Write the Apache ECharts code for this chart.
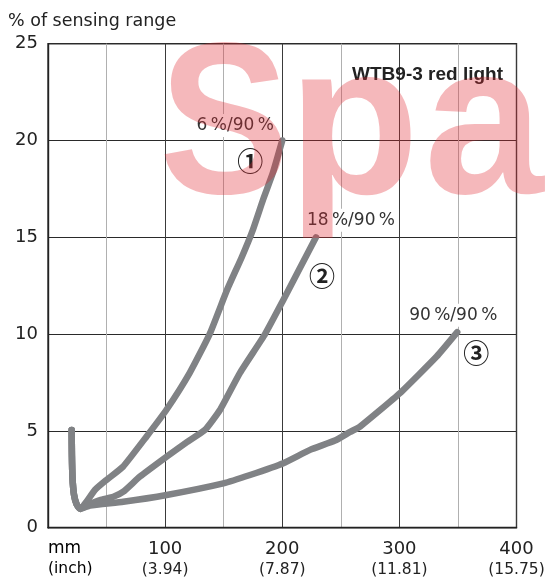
<!DOCTYPE html>
<html>
<head>
<meta charset="utf-8">
<script src="https://cdn.jsdelivr.net/npm/echarts@6/dist/echarts.min.js"></script>
<style>
html,body{margin:0;padding:0;background:#fff;}
#c{width:549px;height:582px;}
</style>
</head>
<body>
<div id="c"></div>
<script>
// ---- data ----
var yTitle = '% of sensing range';
var deviceTitle = 'WTB9-3 red light';
var xTickMm = [100, 200, 300, 400];
var xTickInch = ['(3.94)', '(7.87)', '(11.81)', '(15.75)'];
var xUnitTop = 'mm';
var xUnitBottom = '(inch)';
var seriesLabels = ['6\u2009%/90\u2009%', '18\u2009%/90\u2009%', '90\u2009%/90\u2009%'];
var circledLabels = ['\u2460', '\u2461', '\u2462'];
var watermarkText = 'Spa';

// common hook at start (mm, % of range)
var hook = [[20.2, 5.05], [20.4, 3.8], [20.9, 2.6], [22.2, 1.7], [24.5, 1.2], [27.5, 0.97]];
var curve1 = [[33, 1.35], [40, 1.95], [50, 2.47], [64, 3.15], [84, 4.7], [101, 6.08], [121, 8.0], [138, 10.0],
  [153, 12.3], [165.6, 14.0], [175, 15.4], [183.6, 16.94], [192, 18.33], [200, 20]];
var curve2 = [[35, 1.2], [44.4, 1.43], [55.8, 1.6], [64.3, 1.86], [78.5, 2.64], [101.3, 3.67], [118, 4.4],
  [134, 5.05], [146.8, 6.08], [163.9, 8.0], [185.3, 10.0], [200.9, 11.76], [215.1, 13.41], [228.8, 15.0]];
var curve3 = [[35.9, 1.15], [64.3, 1.34], [101.3, 1.69], [149.7, 2.29], [172.5, 2.72], [200.9, 3.33],
  [223.7, 4.02], [245, 4.5], [258, 4.95], [266.4, 5.22], [300.5, 6.95], [331.8, 8.84], [349.4, 10.1]];

var curves = [hook.concat(curve1), hook.concat(curve2), hook.concat(curve3)];
// label offsets (px) relative to curve end
var nameOffsets = [[-47, -15], [35, -17], [-4, -17]];
var circOffsets = [[-32, 21], [6, 39], [19, 21]];
// watermark letter placement (px) – decoration only
var wmX = [159, 288, 424];
var wmScaleX = [0.91, 1, 1];

var chart = echarts.init(document.getElementById('c'), null, {renderer: 'canvas'});
var FONT = 'DejaVu Sans';

var series = curves.map(function (d, i) {
  var end = d[d.length - 1];
  return {
    type: 'line',
    data: d,
    smooth: 0.15,
    symbol: 'none',
    lineStyle: {color: '#808285', width: 6.5, cap: 'round', join: 'round'},
    z: 3,
    markPoint: {
      symbol: 'circle',
      symbolSize: 0,
      silent: true,
      data: [
        {coord: end, label: {show: true, formatter: seriesLabels[i], offset: nameOffsets[i],
          fontFamily: FONT, fontSize: 17, color: '#333', backgroundColor: '#fff', padding: [3, 4]}},
        {coord: end, label: {show: true, formatter: circledLabels[i], offset: circOffsets[i],
          fontFamily: 'Noto Sans CJK JP', fontWeight: 'bold', fontSize: 26, color: '#222'}}
      ]
    }
  };
});

var richLabels = {
  a: {fontFamily: FONT, fontSize: 18, color: '#222', lineHeight: 20, align: 'center'},
  b: {fontFamily: FONT, fontSize: 15.5, color: '#222', lineHeight: 20, align: 'center'}
};

var graphics = [
  {type: 'text', left: 48, top: 540, z: 50,
    style: {text: '{a|' + xUnitTop + '}\n{b|' + xUnitBottom + '}', rich: {
      a: {fontFamily: FONT, fontSize: 17, color: '#222', lineHeight: 20},
      b: {fontFamily: FONT, fontSize: 15.5, color: '#222', lineHeight: 20}}}}
];
watermarkText.split('').forEach(function (ch, i) {
  graphics.push({type: 'text', x: wmX[i], y: 26, scaleX: wmScaleX[i], z: 100, silent: true,
    style: {text: ch, font: 'bold 215px "Liberation Sans", Arial, sans-serif', fill: 'rgba(225,40,50,0.33)',
      align: 'left', verticalAlign: 'top'}});
});

chart.setOption({
  animation: false,
  backgroundColor: '#fff',
  title: [
    {text: yTitle, left: 8, top: 12, padding: 0,
      textStyle: {fontFamily: FONT, fontSize: 17.5, fontWeight: 'normal', color: '#222'}},
    {text: deviceTitle, right: 46, top: 65, padding: 0,
      textStyle: {fontFamily: 'Liberation Sans', fontSize: 19, fontWeight: 'bold', color: '#222'}}
  ],
  grid: {left: 48, right: 32.5, top: 43.7, bottom: 54.3, show: true, borderColor: '#333', borderWidth: 1.4,
    backgroundColor: '#fff'},
  xAxis: {
    type: 'value', min: 0, max: 400, interval: 100,
    axisLine: {show: true, lineStyle: {color: '#222', width: 1.4}},
    axisTick: {show: false},
    minorTick: {show: false, splitNumber: 2},
    splitLine: {show: true, lineStyle: {color: '#3a3a3a', width: 1}},
    minorSplitLine: {show: true, lineStyle: {color: '#b0b0b0', width: 1}},
    axisLabel: {
      margin: 12,
      formatter: function (v) {
        var k = xTickMm.indexOf(v);
        if (k < 0) return '';
        return '{a|' + xTickMm[k] + '}\n{b|' + xTickInch[k] + '}';
      },
      rich: richLabels
    }
  },
  yAxis: {
    type: 'value', min: 0, max: 25, interval: 5,
    axisLine: {show: true, lineStyle: {color: '#222', width: 1.4}},
    axisTick: {show: false},
    splitLine: {show: true, lineStyle: {color: '#2a2a2a', width: 1}},
    axisLabel: {margin: 10, fontFamily: FONT, fontSize: 18, color: '#222'}
  },
  series: series,
  graphic: graphics
});
</script>
</body>
</html>
